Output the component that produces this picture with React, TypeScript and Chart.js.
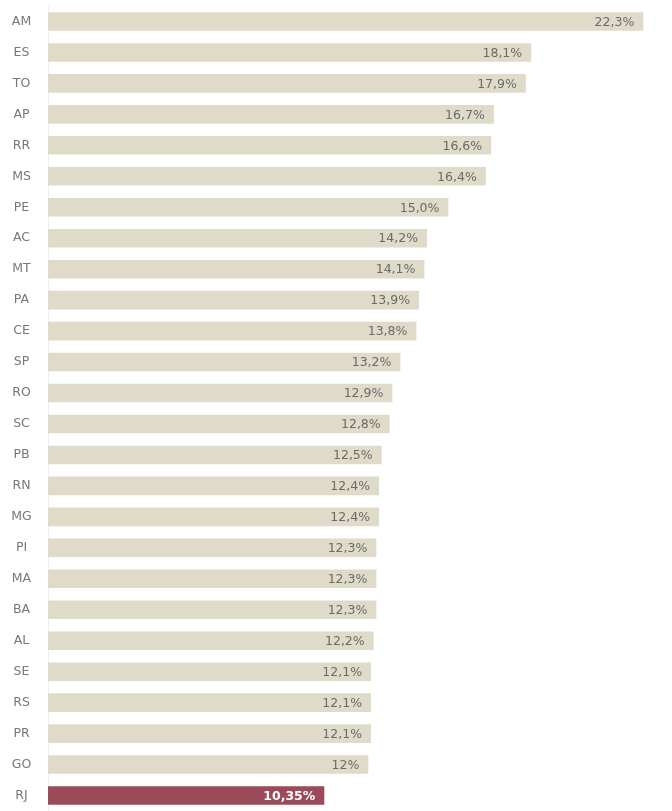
import React, { useEffect, useRef } from "react";
import { Chart, registerables } from "chart.js";

Chart.register(...registerables);

const categories = ["AM","ES","TO","AP","RR","MS","PE","AC","MT","PA","CE","SP","RO","SC","PB","RN","MG","PI","MA","BA","AL","SE","RS","PR","GO","RJ"];
const values = [22.3,18.1,17.9,16.7,16.6,16.4,15.0,14.2,14.1,13.9,13.8,13.2,12.9,12.8,12.5,12.4,12.4,12.3,12.3,12.3,12.2,12.1,12.1,12.1,12,10.35];
const valueLabels = ["22,3%","18,1%","17,9%","16,7%","16,6%","16,4%","15,0%","14,2%","14,1%","13,9%","13,8%","13,2%","12,9%","12,8%","12,5%","12,4%","12,4%","12,3%","12,3%","12,3%","12,2%","12,1%","12,1%","12,1%","12%","10,35%"];
const highlight = "RJ";

const FONT = "'DejaVu Sans', Verdana, sans-serif";

const labelPlugin = {
  id: "labelsPlugin",
  afterDatasetsDraw(chart: any) {
    const ctx = chart.ctx;
    const meta = chart.getDatasetMeta(0);
    ctx.save();
    ctx.textBaseline = "middle";
    meta.data.forEach((bar: any, i: number) => {
      const isHi = categories[i] === highlight;
      // value label
      ctx.textAlign = "right";
      ctx.fillStyle = isHi ? "#ffffff" : "#6a6a6a";
      ctx.font = (isHi ? "bold " : "") + "12.5px " + FONT;
      ctx.fillText(valueLabels[i], bar.x - 9, bar.y + 1);
      // category label
      ctx.textAlign = "center";
      ctx.fillStyle = "#777777";
      ctx.font = "12.5px " + FONT;
      ctx.fillText(categories[i], 21.5, bar.y);
    });
    ctx.restore();
  },
};

export default function App() {
  const ref = useRef<HTMLCanvasElement>(null);
  useEffect(() => {
    document.body.style.margin = "0";
    const chart = new Chart(ref.current!, {
      type: "bar",
      data: {
        labels: categories,
        datasets: [
          {
            data: values,
            backgroundColor: categories.map((c) => (c === highlight ? "#9b4a5a" : "#e0dac8")),
            borderWidth: 0,
            barPercentage: 0.6,
            categoryPercentage: 1.0,
          },
        ],
      },
      options: {
        indexAxis: "y",
        animation: false,
        responsive: false,
        maintainAspectRatio: false,
        layout: { padding: { top: 6, bottom: 0, right: 10, left: 0 } },
        plugins: { legend: { display: false }, tooltip: { enabled: false } },
        scales: {
          x: { display: false, min: 0, max: 23 },
          y: {
            afterFit(scale: any) { scale.width = 48; },
            grid: { display: false, drawTicks: false },
            border: { display: true, color: "#eeeeee" },
            ticks: { display: false },
          },
        },
      },
      plugins: [labelPlugin],
    });
    return () => chart.destroy();
  }, []);
  return (
    <div style={{ position: "relative", width: 672, height: 811, background: "#fff" }}>
      <canvas ref={ref} width={672} height={811} style={{ display: "block" }} />
    </div>
  );
}
